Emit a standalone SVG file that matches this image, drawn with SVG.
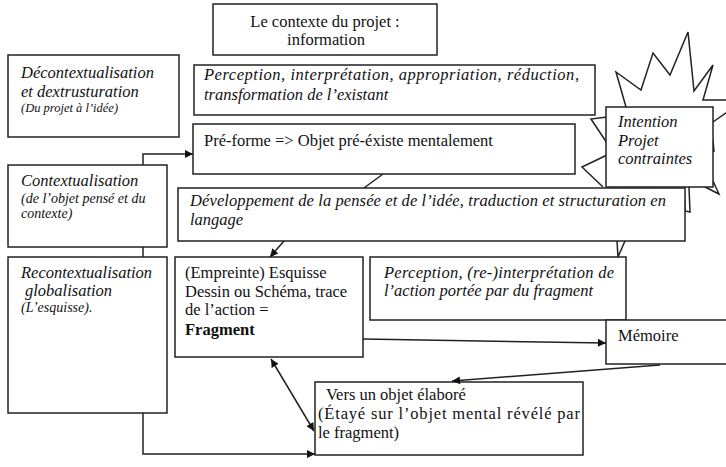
<svg xmlns="http://www.w3.org/2000/svg" width="726" height="467" viewBox="0 0 726 467">
<style>
.box{fill:#fff;stroke:#222;stroke-width:1.5}
.ln{fill:none;stroke:#222;stroke-width:1.5}
text{font-family:'Liberation Serif','Times New Roman','DejaVu Serif',serif;font-size:16.5px;fill:#111}
.i{font-style:italic}
.s{font-size:14px}
.b{font-weight:bold}
</style>
<defs>
<marker id="ah" viewBox="0 0 10 10" refX="10" refY="5" markerWidth="10" markerHeight="8" markerUnits="userSpaceOnUse" orient="auto-start-reverse">
<path d="M0,0 L10,5 L0,10 z" fill="#111"/>
</marker>
</defs>
<rect width="726" height="467" fill="#fff"/>

<g id="starburst">
<polyline class="ln" points="626,107 616,72 641,90 653,53 670,75 688,32 694,91 713,65 703,100 730,100"/>
<polyline class="ln" points="713,122 730,110"/>
<polyline class="ln" points="607,117 591,119 607,143"/>
<polyline class="ln" points="607,155 582,167 603,187"/>
<polyline class="ln" points="705,187 719,194 713,181"/>
<polyline class="ln" points="684,187 685,211 690,212 689,187"/>
<polyline class="ln" points="713,140 714,152"/>
</g>

<g id="n-contexte">
<rect class="box" x="213" y="4" width="224" height="51"/>
<text x="325" y="27" text-anchor="middle">Le contexte du projet :</text>
<text x="326" y="45" text-anchor="middle">information</text>
</g>

<g id="n-decontext">
<rect class="box" x="8" y="55" width="171" height="82"/>
<text class="i" x="21" y="78">Décontextualisation</text>
<text class="i" x="21" y="97">et dextrusturation</text>
<text class="i" x="21" y="112" style="font-size:12.5px">(Du projet à l’idée)</text>
</g>

<g id="n-perception">
<rect class="box" x="194" y="65" width="401" height="50"/>
<text class="i" x="204" y="80" textLength="375" lengthAdjust="spacing">Perception, interprétation, appropriation, réduction,</text>
<text class="i" x="204" y="100">transformation de l’existant</text>
</g>

<g id="n-preforme">
<rect class="box" x="193" y="124" width="382" height="50"/>
<text x="204" y="146">Pré-forme =&gt; Objet pré-éxiste mentalement</text>
</g>

<g id="n-intention">
<rect class="box" x="606" y="107" width="107" height="80"/>
<text class="i" x="618" y="127">Intention</text>
<text class="i" x="618" y="146">Projet</text>
<text class="i" x="618" y="164">contraintes</text>
</g>

<g id="n-context">
<rect class="box" x="8" y="165" width="159" height="82"/>
<text class="i" x="21" y="186">Contextualisation</text>
<text class="i s" x="21" y="203">(de l’objet pensé et du</text>
<text class="i s" x="21" y="218">contexte)</text>
</g>

<g id="n-developpement">
<rect class="box" x="178" y="188" width="507" height="53"/>
<text class="i" x="190" y="206" textLength="476" lengthAdjust="spacing">Développement de la pensée  et de l’idée, traduction et structuration en</text>
<text class="i" x="190" y="225">langage</text>
</g>

<g id="n-recontext">
<rect class="box" x="8" y="257" width="159" height="156"/>
<text class="i" x="21" y="278">Recontextualisation</text>
<text class="i" x="25" y="296">globalisation</text>
<text class="i" x="21" y="312" style="font-size:14px">(L’esquisse).</text>
</g>

<g id="n-empreinte">
<rect class="box" x="175" y="257" width="188" height="100"/>
<text x="185" y="278">(Empreinte) Esquisse</text>
<text x="185" y="297">Dessin ou Schéma, trace</text>
<text x="185" y="315">de l’action =</text>
<text class="b" x="185" y="335">Fragment</text>
</g>

<g id="n-perception2">
<rect class="box" x="370" y="257" width="256" height="63"/>
<text class="i" x="384" y="278" textLength="230" lengthAdjust="spacing">Perception,  (re-)interprétation  de</text>
<text class="i" x="384" y="296">l’action portée par du fragment</text>
</g>

<g id="n-memoire">
<rect class="box" x="606" y="320" width="130" height="44"/>
<text x="618" y="341">Mémoire</text>
</g>

<g id="n-vers">
<rect class="box" x="315" y="382" width="268" height="73"/>
<text x="326" y="400">Vers  un objet élaboré</text>
<text x="318" y="419" textLength="262" lengthAdjust="spacing">(Étayé sur l’objet mental révélé par</text>
<text x="318" y="438">le fragment)</text>
</g>

<g id="connectors">
<path class="ln" d="M143,165 V154 H193" marker-end="url(#ah)"/>
<path class="ln" d="M143,247 V257"/>
<path class="ln" d="M143,413 V454 H315" marker-end="url(#ah)"/>
<path class="ln" d="M383,174 L364,188"/>
<path class="ln" d="M284,241 L270,257" marker-end="url(#ah)"/>
<path class="ln" d="M271,359 L314,431" marker-start="url(#ah)" marker-end="url(#ah)"/>
<path class="ln" d="M363,339 L606,343" marker-end="url(#ah)"/>
<path class="ln" d="M660,365 L452,381" marker-end="url(#ah)"/>
<polyline class="ln" points="617,241 618,257 625,241"/>
</g>
</svg>
